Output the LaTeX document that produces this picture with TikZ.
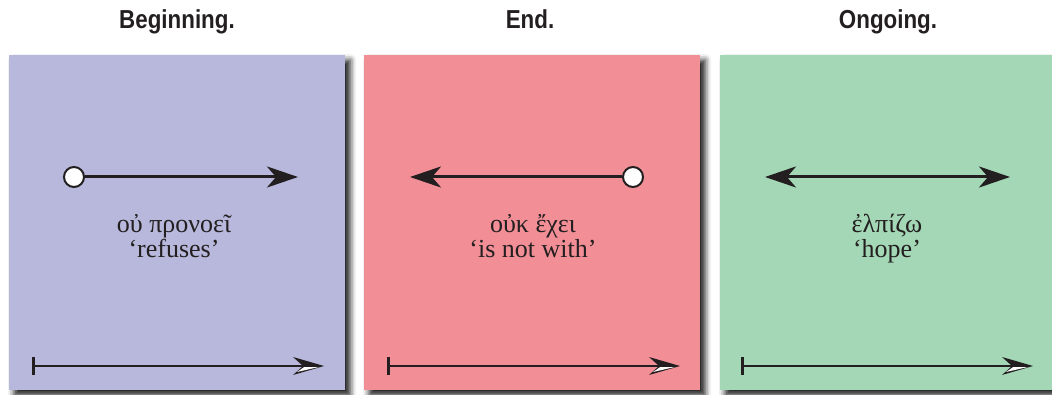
\documentclass[tikz,border=0pt]{standalone}
\usepackage{fontspec}
\setmainfont{Liberation Serif}
\newfontfamily\headfont[FakeStretch=0.86]{Liberation Sans}
\usetikzlibrary{arrows.meta,shadows.blur}

\definecolor{beginfill}{RGB}{184,184,220}
\definecolor{endfill}{RGB}{242,143,150}
\definecolor{goingfill}{RGB}{163,215,181}
\definecolor{ink}{RGB}{35,31,32}

\tikzset{
  panel/.style={minimum width=336pt, minimum height=335pt, inner sep=0pt, anchor=north west,
    blur shadow={shadow xshift=5pt, shadow yshift=-5pt, shadow blur radius=6pt, shadow opacity=90}},
  heading/.style={font=\headfont\bfseries\fontsize{26}{28}\selectfont, text=ink, anchor=base},
  gloss/.style={font=\fontsize{26}{25}\selectfont, align=center, text=ink, anchor=base},
  dot/.style={circle, draw=ink, fill=white, line width=2pt, minimum size=20pt, inner sep=0pt},
  span/.style={draw=ink, line width=3pt, -{Stealth[length=31pt, width=21pt, inset=9pt]}},
  twospan/.style={span, {Stealth[length=31pt, width=21pt, inset=9pt]}-{Stealth[length=31pt, width=21pt, inset=9pt]}},
  timeline/.style={draw=ink, line width=2pt, {Bar[width=18pt, line width=3pt]}-, shorten >=8pt},
  timetip/.pic={
    \fill[ink] (0,0) -- (-31,-9) -- (-21,0) -- (-31,9) -- cycle;
    \fill[white] (-6,1.2) -- (-20,1.2) -- (-27,6) -- cycle;
  }
}

\begin{document}
\begin{tikzpicture}[x=1pt, y=-1pt]
  \useasboundingbox (0,0) rectangle (1052,395);

  % panels
  \node[panel, fill=beginfill] (p1) at (9,55) {};
  \node[panel, fill=endfill] (p2) at (364,55) {};
  \node[panel, fill=goingfill] (p3) at (720,55) {};

  \node[heading] (h1) at (177,29) {Beginning.};
  \node[heading] (h2) at (530,29) {End.};
  \node[heading] (h3) at (888,29) {Ongoing.};

  % beginning
  \node[dot] (b0) at (74,177) {};
  \coordinate (b1) at (298,177);
  \draw[span] (b0) -- (b1);
  \node[gloss] (g1) at (174,258) {οὐ προνοεῖ\\‘refuses’};

  % end
  \node[dot] (e0) at (633,177) {};
  \coordinate (e1) at (410,177);
  \draw[span] (e0) -- (e1);
  \node[gloss] (g2) at (533,258) {οὐκ ἔχει\\‘is not with’};

  % ongoing
  \coordinate (o0) at (765,177);
  \coordinate (o1) at (1010,177);
  \draw[twospan] (o0) -- (o1);
  \node[gloss] (g3) at (887,258) {ἐλπίζω\\‘hope’};

  % time lines
  \foreach \n/\s/\e in {1/32/324, 2/387/680, 3/741/1033} {
    \coordinate (ts\n) at (\s,366);
    \coordinate (te\n) at (\e,366);
    \draw[timeline] (ts\n) -- (te\n);
    \pic at (te\n) {timetip};
  }
\end{tikzpicture}
\end{document}
